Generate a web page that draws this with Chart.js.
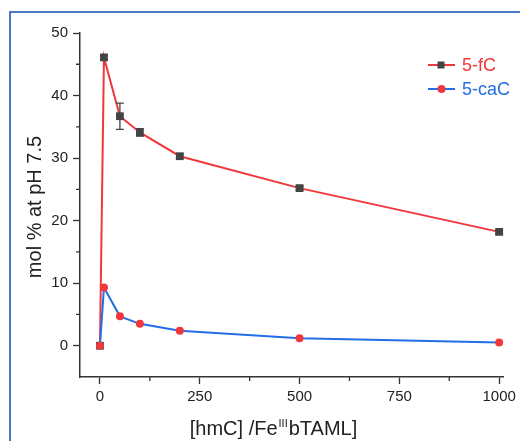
<!DOCTYPE html>
<html>
<head>
<meta charset="utf-8">
<script src="https://cdn.jsdelivr.net/npm/chart.js@4"></script>
<style>
  html, body { margin: 0; padding: 0; background: #fff; }
  #wrap { position: relative; width: 520px; height: 441px; }
  #frame { position: absolute; left: 9px; top: 11px; right: -5px; bottom: -5px;
           border-left: 2.5px solid #4a78c8; border-top: 2.5px solid #4a78c8; pointer-events: none; }
</style>
</head>
<body>
<div id="wrap">
  <canvas id="chart" width="520" height="441"></canvas>
  <div id="frame"></div>
</div>
<script>
const xValues = [0, 10, 50, 100, 200, 500, 1000];
const fcValues = [0, 46.1, 36.7, 34.1, 30.3, 25.2, 18.2];
const fcErrors = [0, 0.4, 2.1, 0.6, 0.3, 0.3, 0.3];
const cacValues = [0, 9.3, 4.7, 3.5, 2.4, 1.2, 0.5];

const xTicks = [0, 250, 500, 750, 1000];
const xMinor = [125, 375, 625, 875];
const yTicks = [0, 10, 20, 30, 40, 50];
const yMinor = [5, 15, 25, 35, 45];

const seriesNames = ['5-fC', '5-caC'];

const red = 'rgb(240, 55, 60)';
const blue = 'rgb(35, 110, 230)';
const dark = '#444';
const axisColor = '#333';
const fontName = '"Liberation Sans", Arial, sans-serif';

const toPoints = (ys) => xValues.map((x, i) => ({ x: x, y: ys[i] }));

// error bars for 5-fC
const errorBars = {
    id: 'errorBars',
    afterDatasetsDraw(chart) {
        const ctx = chart.ctx;
        const xs = chart.scales.x, ys = chart.scales.y;
        ctx.save();
        ctx.strokeStyle = dark;
        ctx.lineWidth = 1.3;
        xValues.forEach((x, i) => {
            const e = fcErrors[i];
            if (!e) return;
            const px = xs.getPixelForValue(x);
            const top = ys.getPixelForValue(fcValues[i] + e);
            const bot = ys.getPixelForValue(fcValues[i] - e);
            ctx.beginPath();
            ctx.moveTo(px, top); ctx.lineTo(px, bot);
            ctx.moveTo(px - 4, top); ctx.lineTo(px + 4, top);
            ctx.moveTo(px - 4, bot); ctx.lineTo(px + 4, bot);
            ctx.stroke();
        });
        ctx.restore();
    }
};

// minor ticks, axis titles, legend
const decorations = {
    id: 'decorations',
    afterDraw(chart) {
        const ctx = chart.ctx;
        const xs = chart.scales.x, ys = chart.scales.y;
        const area = chart.chartArea;
        ctx.save();
        ctx.strokeStyle = axisColor;
        ctx.lineWidth = 1.3;
        ctx.beginPath();
        xMinor.forEach(v => {
            const p = xs.getPixelForValue(v);
            ctx.moveTo(p, area.bottom); ctx.lineTo(p, area.bottom + 4);
        });
        yMinor.forEach(v => {
            const p = ys.getPixelForValue(v);
            ctx.moveTo(area.left, p); ctx.lineTo(area.left - 4, p);
        });
        ctx.stroke();

        // y title
        ctx.fillStyle = '#222';
        ctx.font = '20px ' + fontName;
        ctx.textAlign = 'center';
        ctx.textBaseline = 'middle';
        ctx.save();
        ctx.translate(35, 207);
        ctx.rotate(-Math.PI / 2);
        ctx.fillText('mol % at pH 7.5', 0, 0);
        ctx.restore();

        // x title with superscript
        const parts = [['[hmC] /Fe', 20, 0], ['III', 11, -8], ['bTAML]', 20, 0]];
        let total = 0;
        parts.forEach(p => { ctx.font = p[1] + 'px ' + fontName; total += ctx.measureText(p[0]).width + 1; });
        let cx = 274 - total / 2;
        ctx.textAlign = 'left';
        ctx.textBaseline = 'alphabetic';
        parts.forEach(p => {
            ctx.font = p[1] + 'px ' + fontName;
            ctx.fillText(p[0], cx, 435 + p[2]);
            cx += ctx.measureText(p[0]).width + 1;
        });

        // legend
        ctx.font = '18px ' + fontName;
        ctx.textBaseline = 'middle';
        chart.data.datasets.forEach((ds, i) => {
            const y = 65 + i * 24;
            ctx.strokeStyle = ds.borderColor;
            ctx.lineWidth = 2;
            ctx.beginPath();
            ctx.moveTo(428, y); ctx.lineTo(455, y);
            ctx.stroke();
            ctx.fillStyle = ds.pointBackgroundColor;
            ctx.beginPath();
            if (ds.pointStyle === 'rect') ctx.rect(437.5, y - 3.5, 7, 7);
            else ctx.arc(441.5, y, 4, 0, Math.PI * 2);
            ctx.fill();
            ctx.fillStyle = ds.borderColor;
            ctx.fillText(ds.label, 462, y + 1);
        });
        ctx.restore();
    }
};

new Chart(document.getElementById('chart'), {
    type: 'line',
    data: {
        datasets: [{
            label: seriesNames[0],
            data: toPoints(fcValues),
            borderColor: red,
            borderWidth: 2,
            pointStyle: 'rect',
            pointRadius: 5.5,
            pointBackgroundColor: dark,
            pointBorderColor: dark,
            pointBorderWidth: 0,
            tension: 0,
            order: 1
        }, {
            label: seriesNames[1],
            data: toPoints(cacValues),
            borderColor: blue,
            borderWidth: 2,
            pointStyle: 'circle',
            pointRadius: 4,
            pointBackgroundColor: red,
            pointBorderColor: red,
            pointBorderWidth: 0,
            tension: 0,
            order: 0
        }]
    },
    options: {
        responsive: false,
        animation: false,
        layout: { padding: { left: 0, top: 33, right: 14, bottom: 0 } },
        plugins: {
            legend: { display: false },
            tooltip: { enabled: false }
        },
        scales: {
            x: {
                type: 'linear',
                min: -50,
                max: 1012,
                afterBuildTicks: s => { s.ticks = xTicks.map(v => ({ value: v })); },
                afterFit: s => { s.height = 64; },
                grid: { drawOnChartArea: false, tickLength: 7, color: axisColor, tickWidth: 1.3 },
                border: { color: axisColor, width: 1.5 },
                ticks: { color: '#222', font: { family: fontName, size: 15 }, padding: 4, maxRotation: 0,
                         callback: v => String(v) }
            },
            y: {
                min: -5,
                max: 50,
                afterBuildTicks: s => { s.ticks = yTicks.map(v => ({ value: v })); },
                afterFit: s => { s.width = 80; },
                grid: { drawOnChartArea: false, tickLength: 7, color: axisColor, tickWidth: 1.3 },
                border: { color: axisColor, width: 1.5 },
                ticks: { color: '#222', font: { family: fontName, size: 15 }, padding: 5,
                         callback: v => String(v) }
            }
        }
    },
    plugins: [errorBars, decorations]
});
</script>
</body>
</html>
